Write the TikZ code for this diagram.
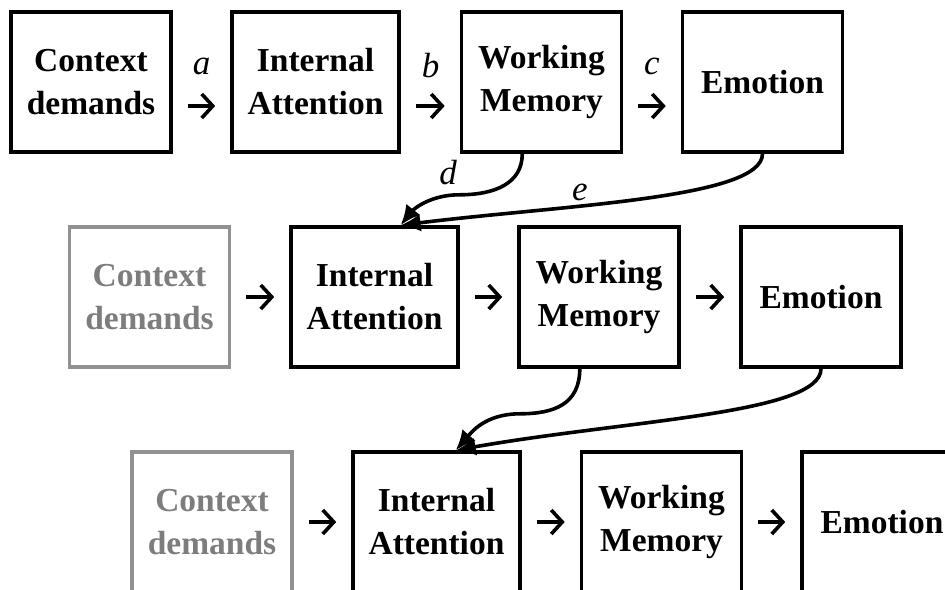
\documentclass[tikz,border=0pt]{standalone}
\usepackage{fontspec}
\setmainfont{Liberation Serif}
\usetikzlibrary{arrows.meta}
\definecolor{fadegray}{RGB}{125,125,125}
\definecolor{fadeline}{RGB}{145,145,145}
\tikzset{
  box/.style={draw,line width=3.6bp,minimum width=160bp,minimum height=140bp,inner sep=0pt,align=center,font=\bfseries\fontsize{33.5bp}{43bp}\selectfont},
  widebox/.style={box,minimum width=167bp},
  fadedbox/.style={box,draw=fadeline,text=fadegray},
  seq/.style={-{Straight Barb[length=11bp,width=24bp,line width=3.6bp]},line width=3.6bp,shorten <=15bp,shorten >=15bp},
  link/.style={-{Latex[length=20bp,width=18bp]},line width=3.6bp},
  lbl/.style={font=\itshape\fontsize{35bp}{40bp}\selectfont}
}

\begin{document}
\begin{tikzpicture}
\useasboundingbox (0bp,0bp) rectangle (945bp,-590bp);
\clip (0bp,0bp) rectangle (945bp,-590bp);

\node (CD1) at (91bp,-82bp)[box] {Context\\demands};
\node (IA1) at (315.5bp,-82bp)[widebox] {Internal\\Attention};
\node (WM1) at (541.5bp,-82bp)[box] {Working\\Memory};
\node (EM1) at (762.5bp,-82bp)[box] {Emotion};
\node (CD2) at (149.5bp,-297bp)[fadedbox] {Context\\demands};
\node (IA2) at (374.5bp,-297bp)[widebox] {Internal\\Attention};
\node (WM2) at (599bp,-297bp)[box] {Working\\Memory};
\node (EM2) at (821bp,-297bp)[box] {Emotion};
\node (CD3) at (212bp,-522bp)[fadedbox] {Context\\demands};
\node (IA3) at (436.5bp,-522bp)[widebox] {Internal\\Attention};
\node (WM3) at (661.5bp,-522bp)[box] {Working\\Memory};
\node (EM3) at (882bp,-522bp)[box] {Emotion};

\node (a) at (201.5bp,-66bp)[lbl] {a};
\node (b) at (430.5bp,-66bp)[lbl] {b};
\node (c) at (652bp,-66bp)[lbl] {c};
\node (d) at (448bp,-173bp)[lbl] {d};
\node (e) at (580bp,-192bp)[lbl] {e};

\draw [seq] ([yshift=-24bp]CD1.east) to ([yshift=-24bp]IA1.west);
\draw [seq] ([yshift=-24bp]IA1.east) to ([yshift=-24bp]WM1.west);
\draw [seq] ([yshift=-24bp]WM1.east) to ([yshift=-24bp]EM1.west);
\draw [seq] (CD2) to (IA2);
\draw [seq] (IA2) to (WM2);
\draw [seq] (WM2) to (EM2);
\draw [seq] (CD3) to (IA3);
\draw [seq] (IA3) to (WM3);
\draw [seq] (WM3) to (EM3);

\draw [link] (WM1.-105) .. controls +(0bp,-30bp) and +(35bp,0bp) .. ++(-63bp,-41bp) .. controls +(-30bp,0bp) and +(12bp,15bp) .. (IA2.70);
\draw [link] (EM1.south) .. controls +(0bp,-45bp) and +(160bp,20bp) .. (IA2.70);
\draw [link] (WM2.-105) .. controls +(0bp,-35bp) and +(35bp,0bp) .. ++(-60bp,-45bp) .. controls +(-35bp,0bp) and +(15bp,17bp) .. (IA3.75);
\draw [link] (EM2.south) .. controls +(0bp,-45bp) and +(170bp,30bp) .. (IA3.75);
\end{tikzpicture}
\end{document}
